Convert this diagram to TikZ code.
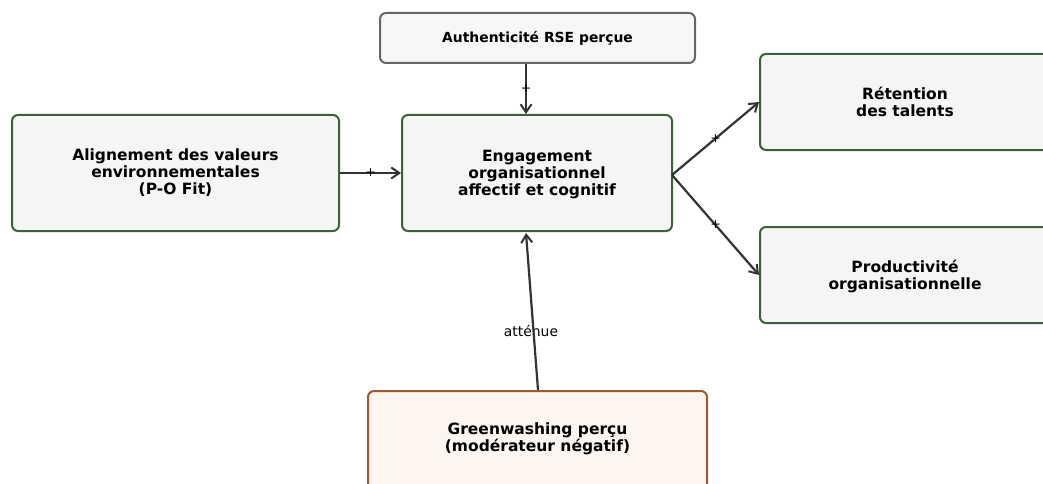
\documentclass[tikz,border=0pt]{standalone}
\usepackage{fontspec}
\setmainfont{DejaVu Sans}
\usetikzlibrary{arrows.meta}
\definecolor{boxfill}{HTML}{F3F6F3}
\definecolor{boxdraw}{HTML}{3D5F3D}
\definecolor{topfill}{HTML}{F7F7F7}
\definecolor{topdraw}{HTML}{666666}
\definecolor{gwfill}{HTML}{FDF5EF}
\definecolor{gwdraw}{HTML}{A0582D}
\definecolor{arr}{HTML}{333333}
\tikzset{
  lbl/.style={font=\bfseries\fontsize{15.5}{17}\selectfont, align=center},
  base/.style={rounded corners=6pt, line width=2pt, align=center, lbl, inner sep=0pt},
  greenbox/.style={base, fill=boxfill, draw=boxdraw},
  topbox/.style={base, fill=topfill, draw=topdraw, font=\bfseries\fontsize{13.9}{15}\selectfont},
  gwbox/.style={base, fill=gwfill, draw=gwdraw},
  conn/.style={draw=arr, line width=2.2pt, -{Straight Barb[length=8pt,width=11pt,line width=2pt]}},
  sign/.style={font=\fontsize{12.5}{12.5}\selectfont, inner sep=0pt, text=black},
}
\begin{document}
\begin{tikzpicture}[x=1pt,y=-1pt]
\useasboundingbox (0,0) rectangle (1043,484);
\node[topbox, minimum width=315pt, minimum height=50pt] (auth) at (537.5,38) {Authenticité RSE perçue};
\node[greenbox, minimum width=327pt, minimum height=116pt] (align) at (175.5,173) {Alignement des valeurs\\environnementales\\(P-O Fit)};
\node[greenbox, minimum width=270pt, minimum height=116pt] (eng) at (537,173) {};
\node[lbl] (engt) at (537,174.5) {Engagement\\organisationnel\\affectif et cognitif};
\node[greenbox, minimum width=290pt, minimum height=96pt, anchor=west] (ret) at (759,102) {};
\node[greenbox, minimum width=290pt, minimum height=96pt, anchor=west] (prod) at (759,275) {};
\node[lbl] (rett) at (905,102) {Rétention\\des talents};
\node[lbl] (prodt) at (905,276.5) {Productivité\\organisationnelle};
\node[gwbox, minimum width=339pt, minimum height=104pt, anchor=north] (gw) at (537.5,390) {};
\node[lbl] (gwt) at (537.5,439) {Greenwashing perçu\\(modérateur négatif)};
\coordinate (engR) at (672,175);
\coordinate (engB) at (526,233);
\coordinate (gwT) at (538,390);
\node[font=\fontsize{13.9}{16}\selectfont] (att) at (531,331) {atténue};
\draw[conn] (auth.south -| 526,0) -- node[sign]{+} (eng.north -| 526,0);
\draw[conn] (align.east) -- node[sign]{+} (eng.west);
\draw[conn] (engR) -- node[sign]{+} (ret.west);
\draw[conn] (engR) -- node[sign]{+} (prod.west);
\draw[conn] (gwT) -- (engB);
\end{tikzpicture}
\end{document}
